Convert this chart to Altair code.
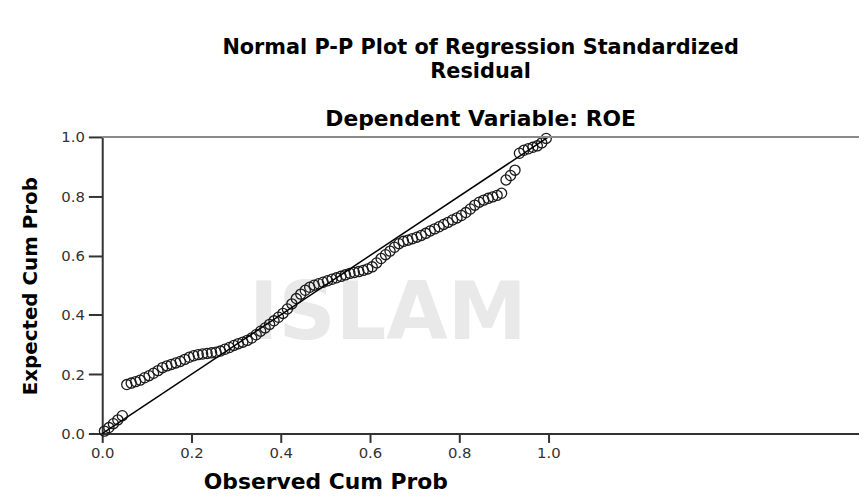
import altair as alt
import pandas as pd

# ---- data ----
observed = [
    0.005, 0.015, 0.025, 0.035, 0.045,
    0.055, 0.065, 0.075, 0.085, 0.095,
    0.105, 0.115, 0.125, 0.135, 0.145,
    0.155, 0.165, 0.175, 0.185, 0.195,
    0.205, 0.215, 0.225, 0.235, 0.245,
    0.255, 0.265, 0.275, 0.285, 0.295,
    0.305, 0.315, 0.325, 0.335, 0.345,
    0.355, 0.365, 0.375, 0.385, 0.395,
    0.405, 0.415, 0.425, 0.435, 0.445,
    0.455, 0.465, 0.475, 0.485, 0.495,
    0.505, 0.515, 0.525, 0.535, 0.545,
    0.555, 0.565, 0.575, 0.585, 0.595,
    0.605, 0.615, 0.625, 0.635, 0.645,
    0.655, 0.665, 0.675, 0.685, 0.695,
    0.705, 0.715, 0.725, 0.735, 0.745,
    0.755, 0.765, 0.775, 0.785, 0.795,
    0.805, 0.815, 0.825, 0.835, 0.845,
    0.855, 0.865, 0.875, 0.885, 0.895,
    0.905, 0.915, 0.925, 0.935, 0.945,
    0.955, 0.965, 0.975, 0.985, 0.995,
]
expected = [
    0.008, 0.020, 0.033, 0.046, 0.060,
    0.165, 0.170, 0.175, 0.180, 0.188,
    0.195, 0.203, 0.212, 0.222, 0.228,
    0.233, 0.238, 0.243, 0.250, 0.257,
    0.262, 0.266, 0.268, 0.270, 0.272,
    0.274, 0.278, 0.284, 0.290, 0.297,
    0.303, 0.308, 0.314, 0.322, 0.333,
    0.345, 0.356, 0.368, 0.380, 0.392,
    0.405, 0.420, 0.437, 0.455, 0.470,
    0.483, 0.493, 0.500, 0.505, 0.510,
    0.515, 0.520, 0.525, 0.530, 0.535,
    0.540, 0.543, 0.546, 0.550, 0.555,
    0.562, 0.575, 0.590, 0.603, 0.615,
    0.628, 0.640, 0.648, 0.652, 0.657,
    0.662, 0.668, 0.675, 0.683, 0.690,
    0.697, 0.705, 0.712, 0.720, 0.727,
    0.735, 0.745, 0.757, 0.770, 0.780,
    0.787, 0.793, 0.798, 0.803, 0.810,
    0.855, 0.870, 0.888, 0.945, 0.955,
    0.960, 0.965, 0.970, 0.980, 0.995,
]
ref_obs = [0.0, 1.0]
ref_exp = [0.0, 1.0]
tick_values = [0.0, 0.2, 0.4, 0.6, 0.8, 1.0]
top_edge = [1.0]
watermark = ["ISLAM"]
watermark_pos = [(0.64, 0.40)]

title_lines = ["Normal P-P Plot of Regression Standardized", "Residual"]
subtitle_text = "Dependent Variable: ROE"
x_title = "Observed Cum Prob"
y_title = "Expected Cum Prob"

pts = pd.DataFrame({"obs": observed, "exp": expected})
ref = pd.DataFrame({"obs": ref_obs, "exp": ref_exp})
edge = pd.DataFrame({"exp": top_edge})
wm = pd.DataFrame({"t": watermark, "obs": [p[0] for p in watermark_pos],
                   "exp": [p[1] for p in watermark_pos]})

FONT = "DejaVu Sans"
x_scale = alt.Scale(domain=[0, 1.696], nice=False, zero=False)
y_scale = alt.Scale(domain=[0, 1], nice=False, zero=False)

x_axis = alt.Axis(
    values=tick_values, format=".1f", title=x_title, grid=False,
    tickSize=9, tickWidth=2, tickColor="#333", domainColor="#333", domainWidth=2,
    labelFont=FONT, labelFontSize=15, labelColor="#333", labelPadding=3,
    labelFlush=False,
    titleFont=FONT, titleFontSize=22, titleFontWeight="bold", titleColor="black",
    titleX=225, titleY=55, titleAlign="center", titleBaseline="alphabetic",
)
y_axis = alt.Axis(
    values=tick_values, format=".1f", title=y_title, grid=False,
    tickSize=14, tickWidth=2, tickColor="#333", domainColor="#333", domainWidth=2,
    labelFont=FONT, labelFontSize=15, labelColor="#333", labelPadding=4,
    labelFlush=False,
    titleFont=FONT, titleFontSize=20, titleFontWeight="bold", titleColor="black",
    titleX=-66, titleY=150, titleAngle=270, titleAlign="center",
    titleBaseline="alphabetic",
)

X = alt.X("obs:Q", scale=x_scale, axis=x_axis)
Y = alt.Y("exp:Q", scale=y_scale, axis=y_axis)

wm_layer = alt.Chart(wm).mark_text(
    font=FONT, fontWeight="bold", fontSize=80, color="#e9e9e9"
).encode(x=alt.X("obs:Q", scale=x_scale), y=alt.Y("exp:Q", scale=y_scale), text="t:N")

points = alt.Chart(pts).mark_point(
    shape="circle", filled=False, size=105, stroke="#1a1a1a", strokeWidth=1.3, opacity=1
).encode(x=X, y=Y)

diag = alt.Chart(ref).mark_line(color="black", strokeWidth=1.5).encode(x=X, y=Y)

top_rule = alt.Chart(edge).mark_rule(color="#8a8a8a", strokeWidth=2).encode(
    y=alt.Y("exp:Q", scale=y_scale)
)

chart = alt.layer(wm_layer, points, diag, top_rule).properties(
    width=763,
    height=299,
    autosize=alt.AutoSizeParams(type="none"),
    padding={"left": 95, "top": 128, "right": 0, "bottom": 61},
    title=alt.Title(
        text=title_lines,
        subtitle=subtitle_text,
        anchor="middle",
        font=FONT, fontSize=21, fontWeight="bold", color="black", lineHeight=25,
        subtitleFont=FONT, subtitleFontSize=22, subtitleFontWeight="bold",
        subtitleColor="black", subtitlePadding=27, offset=0,
    ),
).configure_view(fill="#efefef", stroke="transparent").configure(background="white")

chart.save("out.html", embed_options={"renderer": "svg", "actions": False})
